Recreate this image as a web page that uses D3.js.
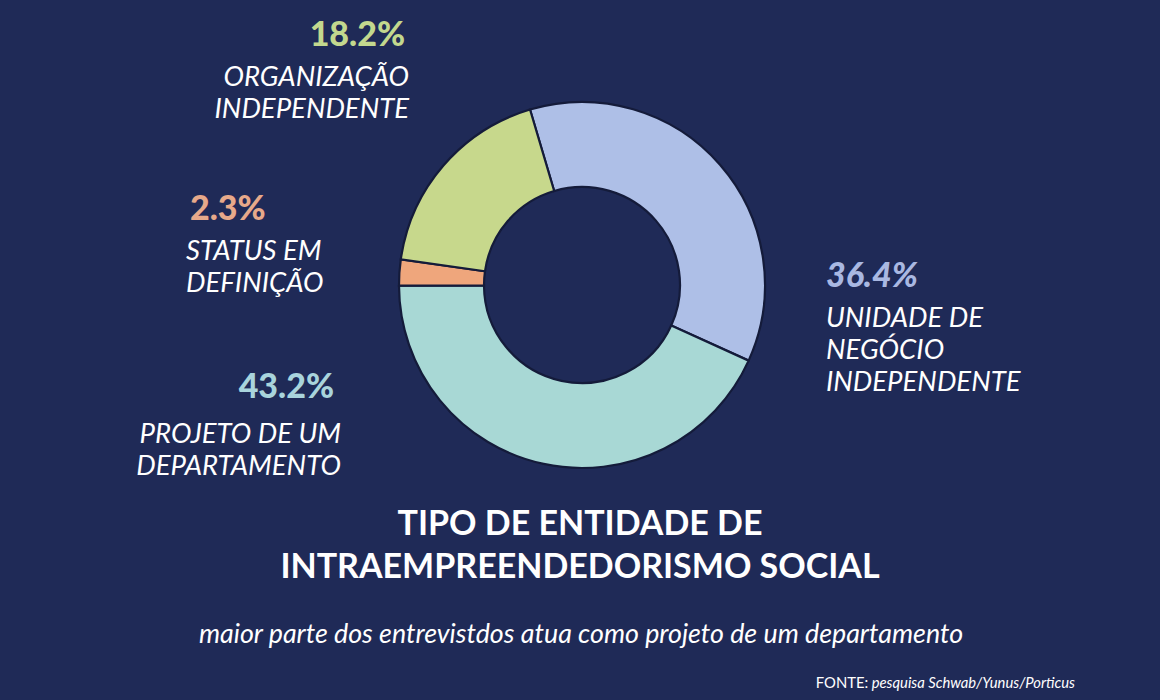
<!DOCTYPE html>
<html><head><meta charset="utf-8">
<script src="https://cdn.jsdelivr.net/npm/d3@7/dist/d3.min.js"></script>
<style>
html,body{margin:0;padding:0;background:#1f2a57;}
svg{display:block;}
text{font-family:Lato,"Open Sans",sans-serif;}
</style></head>
<body>
<svg id="chart" width="1160" height="700"></svg>
<script>
const categories = ["UNIDADE DE NEGÓCIO INDEPENDENTE","PROJETO DE UM DEPARTAMENTO","STATUS EM DEFINIÇÃO","ORGANIZAÇÃO INDEPENDENTE"];
const values = [36.4, 43.2, 2.3, 18.2];
const valueLabels = ["36.4%","43.2%","2.3%","18.2%"];
const labelLines = [["UNIDADE DE","NEGÓCIO","INDEPENDENTE"],["PROJETO DE UM","DEPARTAMENTO"],["STATUS EM","DEFINIÇÃO"],["ORGANIZAÇÃO","INDEPENDENTE"]];
const colors = ["#aebfe7","#a8d8d5","#efa67c","#c7d88c"];
const pctColors = ["#a9b8e2","#a9d4dc","#e7a98a","#c3d88e"];
const title = ["TIPO DE ENTIDADE DE","INTRAEMPREENDEDORISMO SOCIAL"];
const subtitle = "maior parte dos entrevistdos atua como projeto de um departamento";
const source = ["FONTE:"," pesquisa Schwab/Yunus/Porticus"];

const svg = d3.select("#chart");
svg.append("rect").attr("width",1160).attr("height",700).attr("fill","#1f2a57");

const cx = 582, cy = 285, R = 183, r = 98;
const startA = -16.5 * Math.PI/180;
const pie = d3.pie().sort(null).value(d=>d).startAngle(startA).endAngle(startA + 2*Math.PI);
const arc = d3.arc().innerRadius(r).outerRadius(R);
const g = svg.append("g").attr("transform",`translate(${cx},${cy})`);
const arcs = pie(values);
g.selectAll("path").data(arcs).join("path")
  .attr("d",arc)
  .attr("fill",(d,i)=>colors[i])
  .attr("stroke","#141b3a").attr("stroke-width",2.2).attr("stroke-linejoin","miter");

const layout = [
  {anchor:"start", x:826, y:287, pctStyle:"italic", pctX:826},
  {anchor:"end", x:341, y:398, pctStyle:"normal", pctX:334, firstGap:45},
  {anchor:"start", x:186, y:220, pctStyle:"normal", pctX:190},
  {anchor:"end", x:409, y:46, pctStyle:"normal", pctX:405}
];
layout.forEach((L,i)=>{
  svg.append("text").attr("x",L.pctX).attr("y",L.y)
    .attr("text-anchor",L.anchor)
    .attr("font-size",34).attr("font-weight",900).attr("font-style",L.pctStyle)
    .attr("fill",pctColors[i]).text(valueLabels[i]);
  const gap0 = L.firstGap || 40;
  labelLines[i].forEach((ln,j)=>{
    svg.append("text").attr("x",L.x).attr("y",L.y + gap0 + j*32)
      .attr("text-anchor",L.anchor).attr("font-size",27.5).attr("font-style","italic")
      .attr("font-weight",400)
      .attr("fill","#ffffff").text(ln);
  });
});

title.forEach((t,j)=>{
  svg.append("text").attr("x",580).attr("y",535 + j*43).attr("text-anchor","middle")
    .attr("font-size",34).attr("font-weight",700).attr("fill","#ffffff").text(t);
});
svg.append("text").attr("x",581).attr("y",643).attr("text-anchor","middle")
  .attr("font-size",26.8).attr("font-style","italic").attr("fill","#ffffff").text(subtitle);
const st = svg.append("text").attr("x",1075).attr("y",688).attr("text-anchor","end")
  .attr("font-size",14.8).attr("fill","#ffffff");
st.append("tspan").text(source[0]);
st.append("tspan").attr("font-style","italic").text(source[1]);
</script>
</body></html>
